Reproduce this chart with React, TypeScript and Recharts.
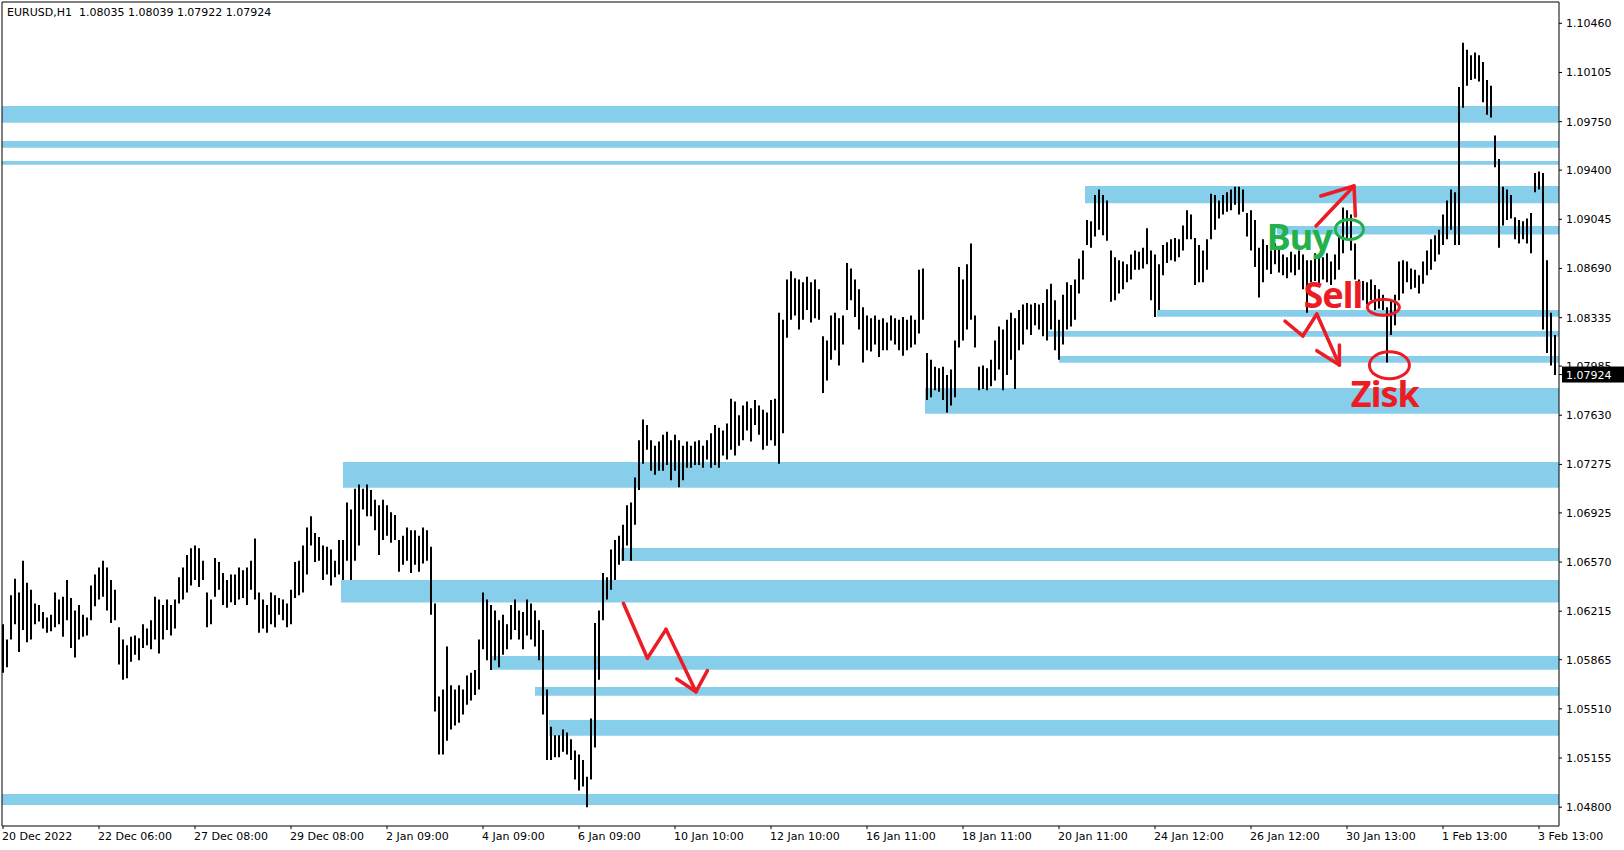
import React from "react";
import {
  Bar,
  ComposedChart,
  ReferenceArea,
  ReferenceDot,
  ReferenceLine,
  XAxis,
  YAxis,
} from "recharts";

// EURUSD H1, sampled as 2-hour bars (hour index = bar index * barHours)
const symbolHeader = "EURUSD,H1  1.08035 1.08039 1.07922 1.07924";
const lastClose = 1.07924;
const barHours = 2;

const highs = [
  1.0612, 1.0601, 1.0633, 1.0645, 1.0635, 1.0658, 1.0642, 1.0637, 1.0627, 1.0626,
  1.0621, 1.0617, 1.0619, 1.0635, 1.063, 1.0632, 1.0644, 1.0631, 1.0622, 1.0626,
  1.0619, 1.0617, 1.064, 1.0648, 1.0653, 1.0658, 1.0653, 1.0644, 1.0637, 1.061,
  1.0601, 1.0597, 1.0603, 1.0604, 1.0602, 1.0612, 1.0609, 1.0615, 1.0632, 1.063,
  1.0626, 1.063, 1.0626, 1.063, 1.0646, 1.0653, 1.0662, 1.0667, 1.0669, 1.0667,
  1.0658, 1.0635, 1.063, 1.066, 1.0657, 1.0649, 1.0644, 1.0648, 1.0648, 1.0653,
  1.0651, 1.0653, 1.0658, 1.0674, 1.0635, 1.063, 1.0626, 1.0635, 1.0633, 1.0631,
  1.063, 1.0627, 1.0637, 1.0657, 1.0658, 1.0669, 1.0682, 1.069, 1.0678, 1.0675,
  1.0669, 1.0668, 1.0666, 1.0658, 1.0673, 1.0673, 1.07, 1.0695, 1.071, 1.0713,
  1.071, 1.0713, 1.0709, 1.0702, 1.0698, 1.0702, 1.0698, 1.0693, 1.0691, 1.0673,
  1.0676, 1.0682, 1.068, 1.068, 1.0676, 1.0682, 1.068, 1.0668, 1.0627, 1.056,
  1.0565, 1.0596, 1.0568, 1.0565, 1.0568, 1.0565, 1.0575, 1.0577, 1.0579, 1.0601,
  1.0635, 1.063, 1.0626, 1.0622, 1.0615, 1.0619, 1.0612, 1.0626, 1.063, 1.0622,
  1.0621, 1.063, 1.0627, 1.0622, 1.0615, 1.0608, 1.0565, 1.0538, 1.0532, 1.0532,
  1.0536, 1.0534, 1.0529, 1.0521, 1.0518, 1.0514, 1.0502, 1.0544, 1.0613, 1.0622,
  1.0649, 1.0646, 1.0666, 1.0673, 1.0676, 1.0684, 1.0698, 1.07, 1.0718, 1.0745,
  1.076, 1.0756, 1.0745, 1.0741, 1.0744, 1.0749, 1.0751, 1.0745, 1.0749, 1.0745,
  1.0741, 1.0744, 1.0741, 1.0744, 1.0745, 1.0741, 1.0745, 1.075, 1.0756, 1.0754,
  1.0752, 1.0757, 1.0775, 1.0773, 1.0763, 1.077, 1.0773, 1.0768, 1.0774, 1.077,
  1.0767, 1.0765, 1.0774, 1.0775, 1.0837, 1.0832, 1.0861, 1.0867, 1.0862, 1.0861,
  1.0859, 1.0863, 1.0859, 1.0861, 1.0854, 1.082, 1.0817, 1.0835, 1.0837, 1.0833,
  1.0835, 1.0873, 1.0869, 1.0861, 1.0854, 1.0841, 1.0835, 1.0833, 1.0835, 1.0832,
  1.0833, 1.083, 1.0835, 1.0833, 1.0832, 1.0834, 1.0832, 1.0835, 1.0832, 1.0868,
  1.0869, 1.0808, 1.0803, 1.0798, 1.0797, 1.0798, 1.0792, 1.0796, 1.0817, 1.087,
  1.0861, 1.0872, 1.0887, 1.0835, 1.0798, 1.0799, 1.0797, 1.0803, 1.0817, 1.0827,
  1.0825, 1.0832, 1.0837, 1.0833, 1.0839, 1.0843, 1.0844, 1.0843, 1.0844, 1.0843,
  1.0844, 1.0854, 1.0858, 1.0846, 1.0832, 1.085, 1.0859, 1.0857, 1.0861, 1.0876,
  1.0882, 1.0904, 1.0903, 1.0922, 1.0926, 1.0922, 1.0918, 1.0882, 1.0877, 1.0875,
  1.0874, 1.0872, 1.0879, 1.0882, 1.0881, 1.0884, 1.0898, 1.0882, 1.0879, 1.0872,
  1.0886, 1.0888, 1.089, 1.0891, 1.089, 1.09, 1.0911, 1.0908, 1.0891, 1.0886,
  1.0882, 1.089, 1.0923, 1.0922, 1.0918, 1.0922, 1.0924, 1.0926, 1.0928, 1.0928,
  1.0926, 1.0909, 1.0911, 1.0904, 1.0884, 1.089, 1.0886, 1.0882, 1.0887, 1.0884,
  1.0879, 1.0877, 1.0881, 1.0879, 1.0882, 1.0879, 1.0875, 1.0875, 1.088, 1.0879,
  1.0877, 1.088, 1.0874, 1.0879, 1.0893, 1.0913, 1.0911, 1.0908, 1.0887, 1.0861,
  1.086, 1.0859, 1.0861, 1.0857, 1.0854, 1.085, 1.0841, 1.0846, 1.085, 1.0874,
  1.0875, 1.0874, 1.0869, 1.0868, 1.0864, 1.0874, 1.0882, 1.089, 1.0893, 1.0897,
  1.0908, 1.0918, 1.0926, 1.0924, 1.1, 1.1032, 1.1027, 1.1023, 1.1025, 1.1023,
  1.1018, 1.1005, 1.1001, 1.0965, 1.0948, 1.0928, 1.0926, 1.0922, 1.0906, 1.0904,
  1.0903, 1.0905, 1.0909, 1.0938, 1.0939, 1.0938, 1.0875, 1.0837, 1.0821,
];

const lows = [
  1.0577, 1.0581, 1.0601, 1.0612, 1.0592, 1.0608, 1.0599, 1.0601, 1.0612, 1.0614,
  1.0609, 1.0606, 1.0607, 1.061, 1.0612, 1.0603, 1.0615, 1.0595, 1.0588, 1.0601,
  1.0603, 1.0604, 1.0615, 1.0625, 1.063, 1.0632, 1.0622, 1.0613, 1.0615, 1.0583,
  1.0572, 1.0573, 1.0585, 1.059, 1.0586, 1.0595, 1.0597, 1.0594, 1.0601, 1.0591,
  1.0601, 1.0608, 1.0604, 1.0609, 1.0627, 1.063, 1.0635, 1.064, 1.0644, 1.0639,
  1.0644, 1.061, 1.0612, 1.0632, 1.0637, 1.0626, 1.0624, 1.0628, 1.0626, 1.063,
  1.0631, 1.0626, 1.0637, 1.063, 1.0606, 1.0609, 1.0606, 1.0612, 1.061, 1.0619,
  1.0615, 1.061, 1.0612, 1.0631, 1.0633, 1.0635, 1.0648, 1.0669, 1.0657, 1.0658,
  1.0644, 1.0648, 1.064, 1.0646, 1.0648, 1.0644, 1.0658, 1.0644, 1.0658, 1.0669,
  1.0695, 1.069, 1.069, 1.068, 1.0662, 1.0673, 1.0676, 1.0671, 1.0673, 1.065,
  1.0655, 1.0658, 1.0649, 1.0655, 1.065, 1.0656, 1.0658, 1.0619, 1.0549, 1.0518,
  1.0518, 1.0528, 1.0536, 1.0539, 1.0541, 1.0547, 1.0554, 1.0557, 1.0561, 1.0565,
  1.0594, 1.0586, 1.0579, 1.0586, 1.0581, 1.059, 1.0594, 1.0601, 1.0608, 1.0601,
  1.0594, 1.0604, 1.0601, 1.0596, 1.0586, 1.0547, 1.0514, 1.0514, 1.0516, 1.0516,
  1.052, 1.0518, 1.0514, 1.05, 1.0492, 1.0495, 1.048, 1.05, 1.0523, 1.0572,
  1.0615, 1.063, 1.0637, 1.0644, 1.0655, 1.0658, 1.0669, 1.0658, 1.0684, 1.0709,
  1.0728, 1.0738, 1.0723, 1.072, 1.0723, 1.0723, 1.0727, 1.0716, 1.0723, 1.0711,
  1.0716, 1.0725, 1.0725, 1.0727, 1.0727, 1.0725, 1.0731, 1.0725, 1.0727, 1.0725,
  1.0734, 1.0731, 1.0738, 1.0734, 1.0741, 1.0745, 1.0752, 1.0744, 1.0756, 1.0749,
  1.0738, 1.0741, 1.0745, 1.0741, 1.0728, 1.075, 1.0819, 1.0832, 1.0835, 1.0825,
  1.0832, 1.0839, 1.083, 1.0833, 1.0832, 1.0779, 1.0788, 1.0803, 1.081, 1.0799,
  1.0814, 1.0839, 1.0846, 1.0834, 1.0825, 1.0801, 1.081, 1.0809, 1.0814, 1.0805,
  1.081, 1.081, 1.0817, 1.0814, 1.081, 1.0806, 1.081, 1.0812, 1.0814, 1.0822,
  1.0832, 1.0774, 1.0776, 1.0781, 1.078, 1.0774, 1.0765, 1.077, 1.0776, 1.0812,
  1.0817, 1.0825, 1.0832, 1.0812, 1.0781, 1.0782, 1.0781, 1.0784, 1.0788, 1.0796,
  1.0781, 1.0792, 1.0803, 1.0782, 1.081, 1.0814, 1.0825, 1.0821, 1.0828, 1.0825,
  1.082, 1.0817, 1.0825, 1.081, 1.0803, 1.0814, 1.0825, 1.0827, 1.0832, 1.0851,
  1.0861, 1.0886, 1.0884, 1.0892, 1.0897, 1.0893, 1.0889, 1.0845, 1.0846, 1.0851,
  1.0854, 1.0859, 1.0861, 1.0868, 1.0868, 1.0869, 1.0872, 1.0846, 1.0834, 1.0839,
  1.0864, 1.0873, 1.0875, 1.0874, 1.0877, 1.0882, 1.089, 1.089, 1.0857, 1.0859,
  1.0859, 1.0868, 1.089, 1.0897, 1.0905, 1.0908, 1.091, 1.0911, 1.0915, 1.0908,
  1.091, 1.0892, 1.0882, 1.087, 1.0848, 1.0859, 1.0868, 1.0865, 1.0872, 1.0866,
  1.0864, 1.0862, 1.0866, 1.0864, 1.0868, 1.0854, 1.0837, 1.0859, 1.086, 1.0857,
  1.0861, 1.0859, 1.0857, 1.0861, 1.0868, 1.088, 1.089, 1.0882, 1.0861, 1.0841,
  1.0846, 1.0843, 1.0846, 1.0839, 1.084, 1.0839, 1.0801, 1.0821, 1.0828, 1.0846,
  1.0851, 1.0859, 1.0854, 1.0855, 1.0851, 1.0858, 1.0864, 1.0868, 1.0874, 1.0879,
  1.0886, 1.089, 1.0897, 1.0886, 1.0886, 1.0985, 1.1001, 1.1005, 1.1006, 1.1004,
  1.0989, 1.098, 1.0978, 1.0942, 1.0884, 1.09, 1.0904, 1.0905, 1.089, 1.0887,
  1.089, 1.0887, 1.088, 1.0924, 1.0926, 1.0825, 1.0808, 1.0799, 1.0792,
];

const timeTicks = [0, 48, 96, 144, 192, 240, 288, 336, 384, 432, 480, 528, 576, 624, 672, 720, 768];
const timeLabels = [
  "20 Dec 2022", "22 Dec 06:00", "27 Dec 08:00", "29 Dec 08:00", "2 Jan 09:00",
  "4 Jan 09:00", "6 Jan 09:00", "10 Jan 10:00", "12 Jan 10:00", "16 Jan 11:00",
  "18 Jan 11:00", "20 Jan 11:00", "24 Jan 12:00", "26 Jan 12:00", "30 Jan 13:00",
  "1 Feb 13:00", "3 Feb 13:00",
];
const priceTicks = [
  1.1046, 1.10105, 1.0975, 1.094, 1.09045, 1.0869, 1.08335, 1.07985, 1.0763,
  1.07275, 1.06925, 1.0657, 1.06215, 1.05865, 1.0551, 1.05155, 1.048,
];

const hourDomain: [number, number] = [-0.5, 778];
const priceDomain: [number, number] = [1.04664, 1.10614];

// support / resistance zones: start hour, top price, bottom price
const zoneStart = [-0.5, -0.5, -0.5, 541, 637, 577, 522, 528, 461, 170, 309, 169, 244, 266, 273, -0.5];
const zoneTop = [1.09863, 1.0961, 1.09466, 1.09285, 1.08996, 1.0839, 1.08238, 1.08058, 1.07827, 1.07293, 1.06671, 1.0644, 1.05892, 1.05668, 1.0543, 1.04895];
const zoneBottom = [1.09742, 1.09562, 1.09439, 1.0916, 1.08936, 1.08342, 1.08197, 1.08009, 1.07641, 1.07107, 1.06578, 1.06277, 1.05793, 1.05605, 1.05316, 1.04816];

// hand-drawn marks, [hour, price]
const drawnLines: [number, number][][] = [
  [[310.2, 1.06272], [322.2, 1.05875], [331.5, 1.06084], [346.5, 1.05634]],
  [[336.9, 1.05726], [346.5, 1.05634], [352.2, 1.05786]],
  [[641, 1.0831], [649.9, 1.08202], [656.9, 1.08361], [668.2, 1.07993]],
  [[656.9, 1.08096], [668.2, 1.07993], [668.2, 1.08137]],
  [[656.5, 1.08996], [675.5, 1.09285]],
  [[658.9, 1.09213], [675.5, 1.09285], [676.2, 1.09068]],
];
const rings = [
  { t: 673.2, p: 1.08972, rx: 14, ry: 10, color: "#22B14C" },
  { t: 690.2, p: 1.0841, rx: 16, ry: 8, color: "#ED1C24" },
  { t: 693.2, p: 1.07991, rx: 20, ry: 13.5, color: "#ED1C24" },
];
const notes = [
  { t: 631.9, p: 1.08823, text: "Buy", color: "#22B14C" },
  { t: 650.2, p: 1.08402, text: "Sell", color: "#ED1C24" },
  { t: 673.9, p: 1.07692, text: "Zisk", color: "#ED1C24" },
];

const axisFont = "'DejaVu Sans', sans-serif";

function PriceTick(props: any) {
  const { x, y, payload } = props;
  if (payload.value === lastClose) {
    return (
      <g>
        <rect x={x - 4} y={y - 8} width={62} height={16} fill="#000" />
        <text x={x} y={y} dy={4} fontSize={11} fontFamily={axisFont} fill="#fff">
          {lastClose.toFixed(5)}
        </text>
      </g>
    );
  }
  return (
    <text x={x} y={y} dy={4} fontSize={11} fontFamily={axisFont} fill="#000">
      {payload.value.toFixed(5)}
    </text>
  );
}

function TimeTick(props: any) {
  const { x, y, payload } = props;
  const i = timeTicks.indexOf(payload.value);
  return (
    <text x={x - 1} y={y + 9} fontSize={11} fontFamily={axisFont} fill="#000" textAnchor="start">
      {timeLabels[i]}
    </text>
  );
}

export default function App() {
  const data = highs.map((h, j) => ({ t: j * barHours, range: [lows[j], h] }));

  return (
    <div style={{ position: "relative", width: 1624, height: 850, background: "#fff" }}>
      <style>{"body{margin:0;background:#fff}"}</style>
      <ComposedChart
        width={1624}
        height={850}
        data={data}
        margin={{ top: 2, right: 0, bottom: 0, left: 2 }}
      >
        <XAxis
          dataKey="t"
          type="number"
          domain={hourDomain}
          allowDataOverflow
          ticks={timeTicks}
          interval={0}
          height={24}
          tickSize={3}
          tickMargin={2}
          axisLine={{ stroke: "#000" }}
          tickLine={{ stroke: "#000" }}
          tick={TimeTick}
        />
        <YAxis
          type="number"
          orientation="right"
          domain={priceDomain}
          allowDataOverflow
          ticks={[...priceTicks, lastClose]}
          interval={0}
          width={65}
          tickSize={3}
          tickMargin={4}
          axisLine={{ stroke: "#000" }}
          tickLine={{ stroke: "#000" }}
          tick={PriceTick}
        />
        {zoneStart.map((s, i) => (
          <ReferenceArea
            key={`z${i}`}
            x1={s}
            x2={hourDomain[1]}
            y1={zoneBottom[i]}
            y2={zoneTop[i]}
            fill="#87CEEB"
            fillOpacity={1}
            stroke="none"
            ifOverflow="hidden"
          />
        ))}
        <ReferenceLine x={hourDomain[0]} stroke="#000" ifOverflow="visible" />
        <ReferenceLine y={priceDomain[1]} stroke="#000" ifOverflow="visible" />
        <Bar dataKey="range" fill="#000" barSize={2} isAnimationActive={false} />
        {drawnLines.flatMap((pts, k) =>
          pts.slice(1).map((pt, i) => (
            <ReferenceLine
              key={`d${k}-${i}`}
              segment={[
                { x: pts[i][0], y: pts[i][1] },
                { x: pt[0], y: pt[1] },
              ]}
              stroke="#ED1C24"
              strokeWidth={3.5}
              strokeLinecap="round"
              ifOverflow="visible"
            />
          ))
        )}
        {rings.map((r, i) => (
          <ReferenceDot
            key={`r${i}`}
            x={r.t}
            y={r.p}
            r={r.rx}
            ifOverflow="visible"
            shape={(p: any) => (
              <ellipse cx={p.cx} cy={p.cy} rx={r.rx} ry={r.ry} fill="none" stroke={r.color} strokeWidth={3} />
            )}
          />
        ))}
        {notes.map((n, i) => (
          <ReferenceDot
            key={`n${i}`}
            x={n.t}
            y={n.p}
            r={1}
            ifOverflow="visible"
            shape={(p: any) => (
              <text
                x={p.cx}
                y={p.cy}
                fill={n.color}
                fontSize={36}
                fontWeight={700}
                fontFamily="'Noto Sans', sans-serif"
                letterSpacing={-1}
              >
                {n.text}
              </text>
            )}
          />
        ))}
      </ComposedChart>
      <div
        style={{
          position: "absolute",
          left: 7,
          top: 6,
          fontFamily: axisFont,
          fontSize: 11,
          lineHeight: "13px",
          whiteSpace: "pre",
          color: "#000",
        }}
      >
        {symbolHeader}
      </div>
    </div>
  );
}
